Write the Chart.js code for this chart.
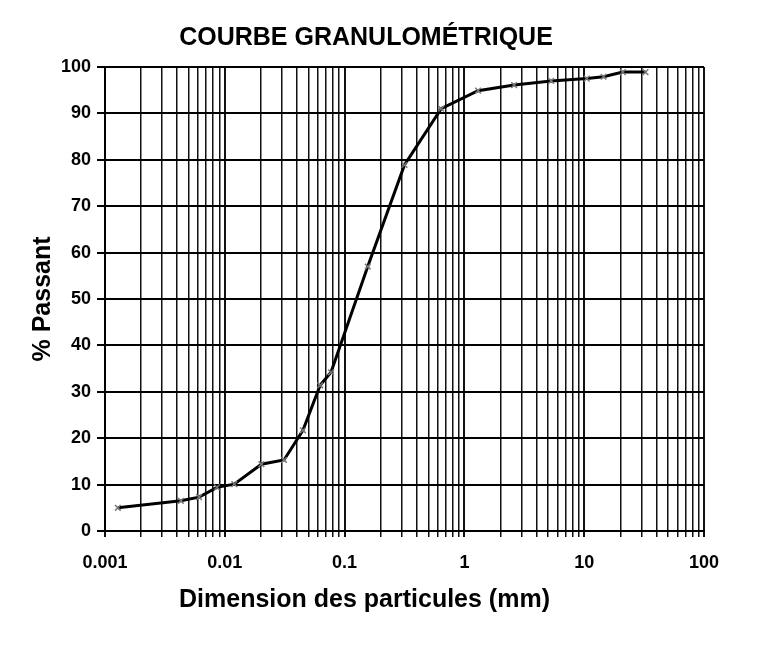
<!DOCTYPE html>
<html>
<head>
<meta charset="utf-8">
<script src="https://cdn.jsdelivr.net/npm/chart.js@4.4.1/dist/chart.umd.min.js"></script>
<style>
  html, body { margin: 0; padding: 0; background: #fff; }
  #wrap { width: 781px; height: 655px; }
</style>
</head>
<body>
<div id="wrap"><canvas id="c" width="781" height="655"></canvas></div>
<script>
// Particle sizes (mm) and percent passing
const sizes   = [0.00128, 0.0043, 0.0061, 0.0086, 0.012, 0.0202, 0.0312, 0.0449, 0.0625, 0.077, 0.156, 0.316, 0.64, 1.3, 2.6, 5.3, 10.5, 14.5, 21, 32.5];
const passing = [5.0, 6.5, 7.3, 9.4, 10.1, 14.4, 15.3, 21.7, 31.4, 34.2, 57.0, 78.9, 91.0, 94.9, 96.1, 97.0, 97.5, 97.9, 98.9, 98.9];
// Decade tick labels on the x axis
const decades = [0.001, 0.01, 0.1, 1, 10, 100];
const decadeLabels = ['0.001', '0.01', '0.1', '1', '10', '100'];
const minorMultipliers = [1, 2, 3, 4, 5, 6, 7, 8, 9];

const FONT = "'Liberation Sans', Arial, sans-serif";

const points = sizes.map((s, i) => ({ x: s, y: passing[i] }));

function isDecade(v) {
  return decades.some(d => Math.abs(v - d) / d < 1e-6);
}

// Shift the x-axis title left, as in the reference
const xTitleShift = {
  id: 'xTitleShift',
  beforeDraw(chart) {
    const s = chart.scales.x;
    if (s && !s._patchedTitle) {
      const orig = s.drawTitle.bind(s);
      s.drawTitle = function () {
        const ctx = this.ctx;
        ctx.save();
        ctx.translate(-40, 0);
        orig();
        ctx.restore();
      };
      s._patchedTitle = true;
    }
  }
};

new Chart(document.getElementById('c'), {
  type: 'scatter',
  data: {
    datasets: [{
      data: points,
      showLine: true,
      borderColor: '#000',
      borderWidth: 3,
      pointStyle: 'crossRot',
      pointRadius: 4,
      pointBorderColor: '#777',
      pointBorderWidth: 1.5,
      tension: 0
    }]
  },
  plugins: [xTitleShift],
  options: {
    responsive: false,
    animation: false,
    layout: { padding: { left: 28, right: 77, top: 0, bottom: 0 } },
    plugins: {
      legend: { display: false },
      tooltip: { enabled: false },
      title: {
        display: true,
        text: 'COURBE GRANULOMÉTRIQUE',
        color: '#000',
        font: { family: FONT, size: 25, weight: 'bold' },
        padding: { top: 23, bottom: 14 }
      }
    },
    scales: {
      x: {
        type: 'logarithmic',
        min: 0.001,
        max: 100,
        afterBuildTicks: (scale) => {
          const t = [];
          decades.forEach((d, i) => {
            if (i === decades.length - 1) { t.push({ value: d }); return; }
            minorMultipliers.forEach(m => t.push({ value: d * m }));
          });
          scale.ticks = t;
        },
        afterFit: (scale) => { scale.height = 124; },
        ticks: {
          autoSkip: false,
          maxRotation: 0,
          padding: 15,
          color: '#000',
          font: { family: FONT, size: 18, weight: 'bold' },
          callback: (v) => {
            const i = decades.findIndex(d => Math.abs(v - d) / d < 1e-6);
            return i >= 0 ? decadeLabels[i] : '';
          }
        },
        grid: {
          color: '#111',
          lineWidth: (ctx) => (ctx.tick && isDecade(ctx.tick.value)) ? 2 : 1.5,
          drawTicks: true,
          tickLength: 6
        },
        border: { display: true, color: '#000', width: 2 },
        title: {
          display: true,
          text: 'Dimension des particules (mm)',
          color: '#000',
          font: { family: FONT, size: 25, weight: 'bold' },
          padding: { top: 4, bottom: 40 }
        }
      },
      y: {
        min: 0,
        max: 100,
        afterFit: (scale) => { scale.width = 77; },
        ticks: {
          stepSize: 10,
          padding: 6,
          color: '#000',
          font: { family: FONT, size: 18, weight: 'bold' }
        },
        grid: {
          color: '#000',
          lineWidth: 2,
          tickLength: 8
        },
        border: { display: true, color: '#000', width: 2 },
        title: {
          display: true,
          text: '% Passant',
          color: '#000',
          font: { family: FONT, size: 25, weight: 'bold' },
          padding: { top: 0, bottom: 0 }
        }
      }
    }
  }
});
</script>
</body>
</html>
